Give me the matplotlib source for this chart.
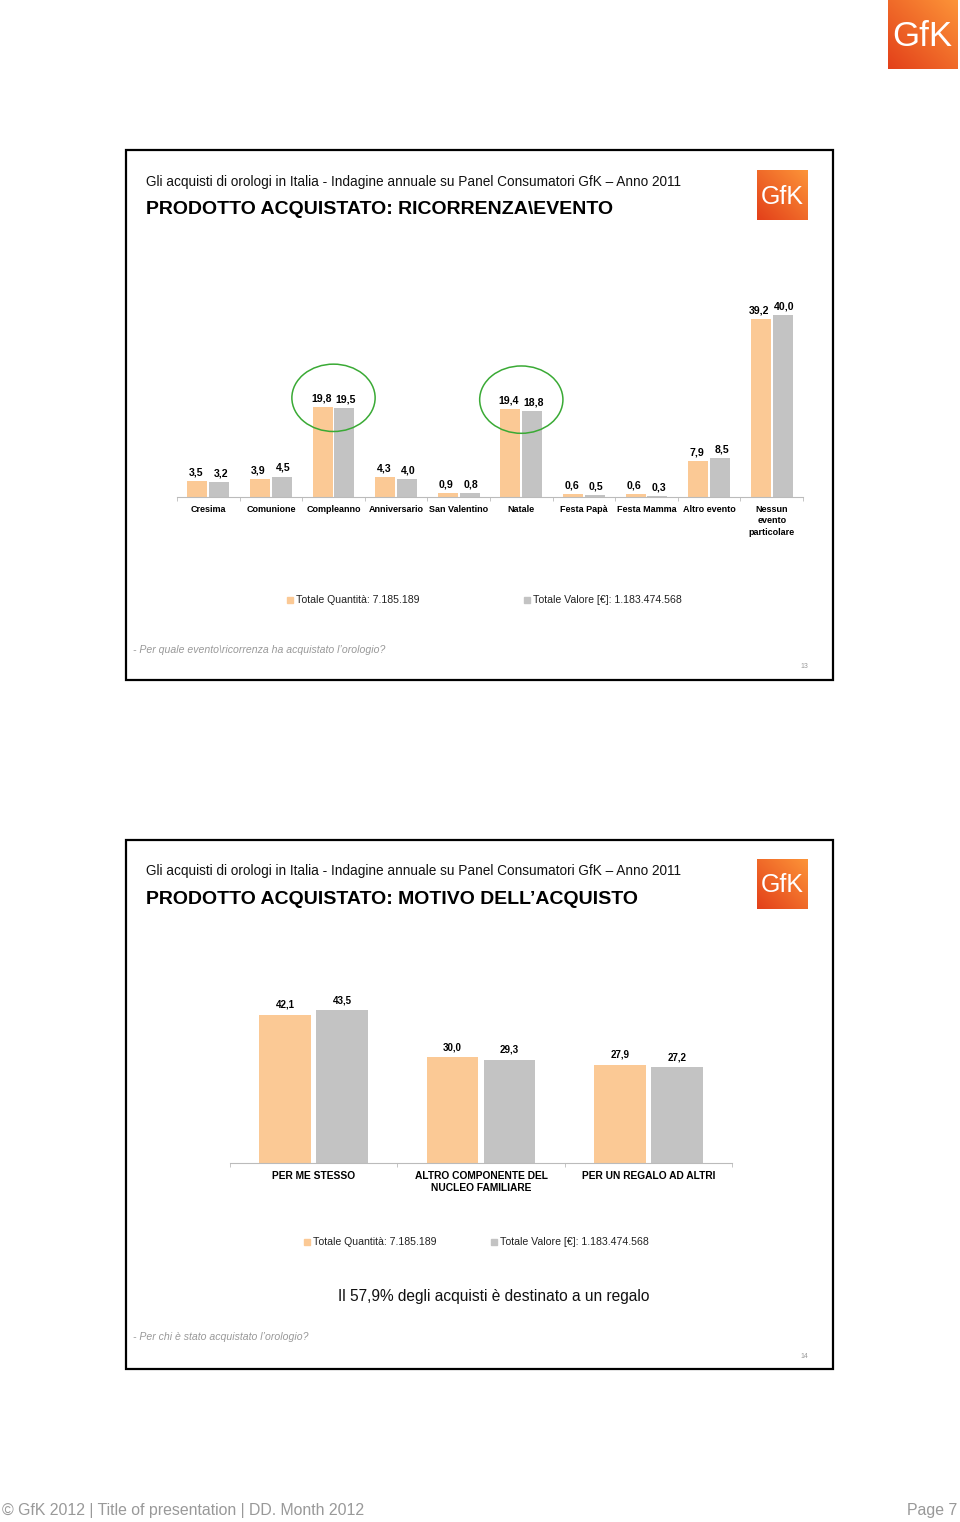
import numpy as np
import matplotlib.pyplot as plt
from matplotlib.patches import Rectangle, Ellipse

plt.rcParams['font.family'] = ['Liberation Sans', 'DejaVu Sans']

# chart 1 data: ricorrenza / evento
events = ['Cresima', 'Comunione', 'Compleanno', 'Anniversario', 'San Valentino',
          'Natale', 'Festa Papà', 'Festa Mamma', 'Altro evento',
          'Nessun\nevento\nparticolare']
ev_qty = [3.5, 3.9, 19.8, 4.3, 0.9, 19.4, 0.6, 0.6, 7.9, 39.2]
ev_val = [3.2, 4.5, 19.5, 4.0, 0.8, 18.8, 0.5, 0.3, 8.5, 40.0]
circled = ['Compleanno', 'Natale']

# chart 2 data: motivo dell'acquisto
motives = ['PER ME STESSO', 'ALTRO COMPONENTE DEL\nNUCLEO FAMILIARE',
           'PER UN REGALO AD ALTRI']
mo_qty = [42.1, 30.0, 27.9]
mo_val = [43.5, 29.3, 27.2]

legend_labels = ['Totale Quantità: 7.185.189', 'Totale Valore [€]: 1.183.474.568']

ORANGE = '#FBC995'
GRAY = '#C3C3C3'
W, H = 960, 1522

fig = plt.figure(figsize=(W / 100, H / 100), dpi=100)


def px_axes(x0, y0, x1, y1):
    return fig.add_axes([x0 / W, 1 - y1 / H, (x1 - x0) / W, (y1 - y0) / H])


def ft(x, y, s, **kw):
    kw.setdefault('va', 'center')
    fig.text(x / W, 1 - y / H, s, **kw)


def logo(x0, y0, x1, y1, fs):
    ax = px_axes(x0, y0, x1, y1)
    t = np.linspace(0, 1, 60)
    g = (t[None, :] + (1 - t[:, None])) / 2
    c1 = np.array([0.89, 0.25, 0.10])
    c2 = np.array([0.99, 0.58, 0.22])
    img = c1[None, None, :] * (1 - g[..., None]) + c2[None, None, :] * g[..., None]
    ax.imshow(img, extent=[0, 1, 0, 1], aspect='auto')
    ax.text(0.5, 0.47, 'GfK', color='white', fontsize=fs, ha='center', va='center')
    ax.set_axis_off()


def frame(y0, y1):
    fig.patches.append(Rectangle((126 / W, 1 - y1 / H), (833 - 126) / W, (y1 - y0) / H,
                                 transform=fig.transFigure, fill=False,
                                 edgecolor='black', linewidth=1.6))


def legend(xq, xv, y):
    for x, c, s in zip([xq, xv], [ORANGE, GRAY], legend_labels):
        fig.patches.append(Rectangle(((x - 3) / W, 1 - (y + 3) / H), 6 / W, 6 / H,
                                     transform=fig.transFigure, color=c))
        ft(x + 6, y, s, fontsize=7.6, color='#222222')


def style_axes(ax, n):
    ax.set_xlim(-0.5, n - 0.5)
    for sp in ['top', 'right', 'left']:
        ax.spines[sp].set_visible(False)
    ax.spines['bottom'].set_color('#BBBBBB')
    ax.set_yticks([])
    ax.set_xticks(np.arange(-0.5, n, 1.0), minor=True)
    ax.tick_params(axis='x', which='minor', length=3, color='#BBBBBB')
    ax.tick_params(axis='x', which='major', length=0, pad=6)
    ax.patch.set_alpha(0)


HEADER = 'Gli acquisti di orologi in Italia - Indagine annuale su Panel Consumatori GfK – Anno 2011'

# top-right logo
logo(888, 0, 957, 69, 25)

# ---- slide 13 ----
frame(150, 680)
ft(146, 182, HEADER, fontsize=9.8, color='#111111')
ft(146, 210, 'PRODOTTO ACQUISTATO: RICORRENZA\\EVENTO', fontsize=14, weight='bold')
logo(757, 170, 808, 220, 18)

ax1 = px_axes(177, 290, 803, 497)
x = np.arange(len(events))
ax1.bar(x - 0.175, ev_qty, width=0.32, color=ORANGE)
ax1.bar(x + 0.175, ev_val, width=0.32, color=GRAY)
ax1.set_ylim(0, 45.5)
style_axes(ax1, len(events))
ax1.set_xticks(x)
ax1.set_xticklabels(events, fontsize=6.5, weight='bold', linespacing=1.3)
for i in range(len(events)):
    ax1.annotate(f'{ev_qty[i]:.1f}'.replace('.', ','), (x[i] - 0.175, ev_qty[i]),
                 xytext=(-1, 4), textcoords='offset points', ha='center',
                 fontsize=7.6, weight='bold')
    ax1.annotate(f'{ev_val[i]:.1f}'.replace('.', ','), (x[i] + 0.175, ev_val[i]),
                 xytext=(1, 4), textcoords='offset points', ha='center',
                 fontsize=7.6, weight='bold')
for name in circled:
    i = events.index(name)
    ax1.add_patch(Ellipse((i, max(ev_qty[i], ev_val[i]) + 2.0), 1.33, 14.8,
                          fill=False, edgecolor='#3AAA35', linewidth=1.1, clip_on=False))

legend(290, 527, 600)
ft(133, 650, "- Per quale evento\\ricorrenza ha acquistato l’orologio?", fontsize=7.6,
   style='italic', color='#999999')
ft(804, 666, '13', fontsize=5, color='#999999', ha='center')

# ---- slide 14 ----
frame(840, 1369)
ft(146, 871, HEADER, fontsize=9.8, color='#111111')
ft(146, 899, 'PRODOTTO ACQUISTATO: MOTIVO DELL’ACQUISTO', fontsize=14, weight='bold')
logo(757, 859, 808, 909, 18)

ax2 = px_axes(230, 960, 732, 1163)
x2 = np.arange(len(motives))
ax2.bar(x2 - 0.17, mo_qty, width=0.31, color=ORANGE)
ax2.bar(x2 + 0.17, mo_val, width=0.31, color=GRAY)
ax2.set_ylim(0, 57.7)
style_axes(ax2, len(motives))
ax2.set_xticks(x2)
ax2.set_xticklabels(motives, fontsize=7.4, weight='bold', linespacing=1.15)
for i in range(len(motives)):
    ax2.annotate(f'{mo_qty[i]:.1f}'.replace('.', ','), (x2[i] - 0.17, mo_qty[i]),
                 xytext=(0, 5), textcoords='offset points', ha='center',
                 fontsize=7, weight='bold')
    ax2.annotate(f'{mo_val[i]:.1f}'.replace('.', ','), (x2[i] + 0.17, mo_val[i]),
                 xytext=(0, 5), textcoords='offset points', ha='center',
                 fontsize=7, weight='bold')

legend(307, 494, 1242)
ft(494, 1297, 'Il 57,9% degli acquisti è destinato a un regalo', fontsize=11.2,
   ha='center', color='#111111')
ft(133, 1337, "- Per chi è stato acquistato l’orologio?", fontsize=7.6,
   style='italic', color='#999999')
ft(804, 1356, '14', fontsize=5, color='#999999', ha='center')

# footer
ft(2, 1510, '© GfK 2012 | Title of presentation | DD. Month 2012', fontsize=11.4, color='#999999')
ft(957, 1510, 'Page 7', fontsize=11.4, color='#999999', ha='right')

fig.savefig('out.png', dpi=100)
